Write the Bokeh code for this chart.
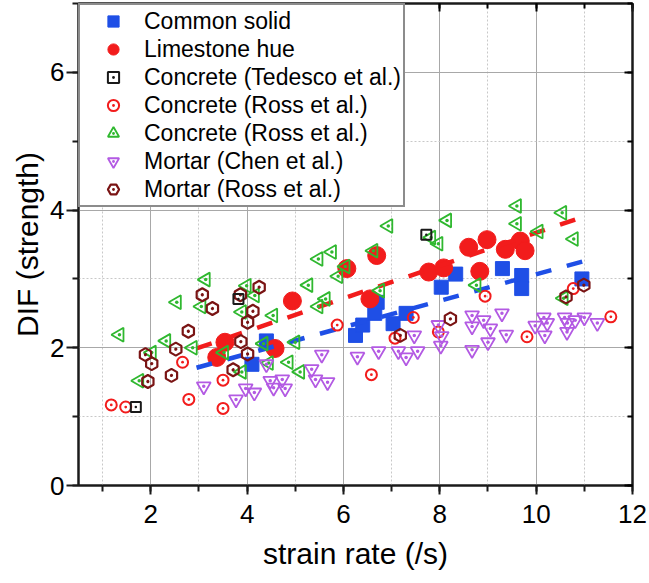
import math
from bokeh.plotting import figure
from bokeh.models import (LinearAxis, SingleIntervalTicker, Legend, LegendItem,
                          CustomJSTickFormatter)
from bokeh.embed import file_html
from bokeh.resources import INLINE

# ---------------- data ----------------
common_x = [4.1, 4.4, 6.25, 6.4, 6.65, 6.7, 7.03, 7.3, 8.03, 8.33, 9.3, 9.7, 9.7, 10.95]
common_y = [1.76, 2.1, 2.18, 2.33, 2.5, 2.66, 2.35, 2.5, 2.88, 3.07, 3.15, 3.05, 2.86, 3.0]

lime_x = [3.37, 3.54, 4.58, 4.94, 6.07, 6.55, 6.69, 7.77, 8.08, 8.6, 8.98, 8.83, 9.36, 9.67, 9.77]
lime_y = [1.86, 2.08, 1.99, 2.68, 3.15, 2.71, 3.34, 3.1, 3.16, 3.46, 3.57, 3.11, 3.43, 3.55, 3.41]

tedesco_x = [1.69, 3.82, 7.72]
tedesco_y = [1.14, 2.71, 3.64]

ross_c_x = [1.18, 1.48, 2.66, 2.79, 3.5, 3.5, 5.87, 6.58, 7.07, 7.45, 7.97, 8.94, 9.81, 10.77, 11.55]
ross_c_y = [1.17, 1.14, 1.79, 1.25, 1.53, 1.12, 2.33, 1.61, 2.14, 2.44, 2.23, 2.75, 2.16, 2.86, 2.45]

ross_t_x = [1.35, 1.76, 2.02, 2.32, 2.54, 2.87, 3.05, 3.14, 3.52, 3.89, 3.99, 4.16, 3.89,
            4.34, 4.45, 4.54, 4.86, 5.0, 5.1, 5.27, 5.48, 5.63, 5.48, 5.76, 5.89, 6.04,
            6.93, 6.62, 6.76, 8.15, 7.82, 7.97, 8.76, 9.6, 9.6, 10.05, 10.54, 10.78, 10.57]
ross_t_y = [2.19, 1.52, 1.93, 2.1, 2.66, 2.0, 2.6, 2.99, 1.93, 2.52, 2.9, 2.76, 1.65,
            2.06, 1.78, 2.47, 1.79, 2.08, 1.65, 2.91, 2.6, 2.71, 3.29, 3.39, 3.04, 3.18,
            3.77, 3.41, 2.83, 3.85, 3.6, 3.51, 2.91, 4.06, 3.8, 3.69, 3.96, 3.58, 2.72]

chen_x = [3.1, 3.77, 3.97, 4.15, 4.4, 4.48, 4.55, 4.73, 4.79, 5.34, 5.42, 5.67, 5.55,
          6.29, 6.73, 7.14, 7.3, 7.54, 7.47, 7.97, 8.04, 8.02, 8.67, 8.67, 8.67, 8.91,
          9.05, 9.0, 9.29, 9.38, 9.98, 10.16, 10.23, 10.18, 10.59, 10.65, 10.64, 10.81,
          11.0, 11.27]
chen_y = [1.44, 1.25, 1.41, 1.35, 1.76, 1.52, 1.42, 1.54, 1.41, 1.69, 1.54, 1.5, 1.9,
          1.87, 1.95, 1.95, 1.86, 1.95, 2.18, 2.33, 2.17, 2.03, 2.47, 2.31, 1.97, 2.4,
          2.28, 2.08, 2.5, 2.19, 2.32, 2.44, 2.36, 2.18, 2.44, 2.36, 2.23, 2.4,
          2.44, 2.36]

mortar_r_x = [1.89, 2.02, 1.94, 2.43, 2.52, 2.78, 3.07, 3.28, 3.71, 3.86, 3.87, 4.01,
              4.01, 4.12, 4.25, 7.18, 8.22, 10.62, 10.99]
mortar_r_y = [1.9, 1.77, 1.51, 1.6, 1.98, 2.24, 2.77, 2.57, 1.68, 2.77, 2.09, 1.91,
              2.37, 2.53, 2.88, 2.18, 2.42, 2.74, 2.91]

fit_x = [2.95, 11.05]
common_fit_y = [1.71, 3.27]
lime_fit_y = [1.99, 3.92]

x_ticks_interval = 2
y_ticks_interval = 2

FONT = "Liberation Sans"

p = figure(width=649, height=583, x_range=(0.5, 12), y_range=(0, 7),
           output_backend="svg", toolbar_location=None,
           min_border_left=78, min_border_right=17, min_border_top=3,
           min_border_bottom=98)
p.background_fill_color = "white"
p.border_fill_color = "white"
p.outline_line_color = "#1a1a1a"
p.outline_line_width = 2

p.xaxis.ticker = SingleIntervalTicker(interval=x_ticks_interval, num_minor_ticks=2)
p.yaxis.ticker = SingleIntervalTicker(interval=y_ticks_interval, num_minor_ticks=2)

for g in (p.xgrid, p.ygrid):
    g.grid_line_color = "#a8a8a8"
    g.grid_line_width = 1
    g.minor_grid_line_color = "#c8c8c8"
    g.minor_grid_line_dash = "2 2"
    g.minor_grid_line_width = 1

for ax in (p.xaxis, p.yaxis):
    ax.axis_line_width = 2
    ax.axis_line_color = "#1a1a1a"
    ax.major_tick_line_width = 2
    ax.minor_tick_line_width = 2
    ax.major_tick_line_color = "#1a1a1a"
    ax.minor_tick_line_color = "#1a1a1a"
    ax.major_tick_in = 0
    ax.minor_tick_in = 0
    ax.major_label_text_font = FONT
    ax.major_label_text_font_size = "26px"
    ax.major_label_text_color = "black"
    ax.axis_label_text_font = FONT
    ax.axis_label_text_font_size = "30px"
    ax.axis_label_text_font_style = "normal"
    ax.axis_label_text_color = "black"

p.xaxis.major_tick_out = 9
p.xaxis.minor_tick_out = 6
p.xaxis.major_label_standoff = 10
p.xaxis.axis_label_standoff = 11
p.xaxis.axis_label = "strain rate (/s)"

p.yaxis.major_tick_out = 12
p.yaxis.minor_tick_out = 6
p.yaxis.major_label_standoff = 2
p.yaxis.axis_label_standoff = 3
p.yaxis.axis_label = "DIF (strength)"

blank = CustomJSTickFormatter(code="return ''")
for loc, ticker in (("right", SingleIntervalTicker(interval=y_ticks_interval, num_minor_ticks=2)),
                    ("above", SingleIntervalTicker(interval=x_ticks_interval, num_minor_ticks=2))):
    ax = LinearAxis(ticker=ticker, formatter=blank, axis_line_width=2, axis_line_color="#1a1a1a",
                    major_tick_in=8, major_tick_out=0, minor_tick_in=5, minor_tick_out=0,
                    major_tick_line_width=2, minor_tick_line_width=2,
                    major_label_standoff=0)
    p.add_layout(ax, loc)

blue = "#1f4fe6"
red = "#f21c1c"
green = "#2fb82f"
purple = "#b35ae3"
maroon = "#7a1414"

r_common = p.scatter(common_x, common_y, marker="square", size=14,
                     fill_color=blue, line_color=blue)
r_lime = p.scatter(lime_x, lime_y, marker="circle", size=18,
                   fill_color=red, line_color=red)

p.line(fit_x, common_fit_y, line_color=blue, line_width=4.5, line_dash="16 16")
p.line(fit_x, lime_fit_y, line_color=red, line_width=4.5, line_dash="16 16")

r_ross_c = p.scatter(ross_c_x, ross_c_y, marker="circle_dot", size=11,
                     fill_color=None, line_color=red, line_width=2)
r_ross_t = p.scatter(ross_t_x, ross_t_y, marker="triangle_dot", size=14, angle=math.pi / 2,
                     fill_color=None, line_color=green, line_width=1.8)
r_chen = p.scatter(chen_x, chen_y, marker="inverted_triangle", size=14,
                   fill_color=None, line_color=purple, line_width=1.8)
r_chen_dot = p.scatter(chen_x, chen_y, marker="dot", size=14,
                       fill_color=purple, line_color=purple)
r_mortar = p.scatter(mortar_r_x, mortar_r_y, marker="hex_dot", size=13, angle=math.pi / 6,
                     fill_color=None, line_color=maroon, line_width=2.2)
r_tedesco = p.scatter(tedesco_x, tedesco_y, marker="square_dot", size=10,
                      fill_color=None, line_color="#1a1a1a", line_width=2)

legend = Legend(items=[
    LegendItem(label="Common solid", renderers=[r_common]),
    LegendItem(label="Limestone hue", renderers=[r_lime]),
    LegendItem(label="Concrete (Tedesco et al.)", renderers=[r_tedesco]),
    LegendItem(label="Concrete (Ross et al.)", renderers=[r_ross_c]),
    LegendItem(label="Concrete (Ross et al.)", renderers=[r_ross_t]),
    LegendItem(label="Mortar (Chen et al.)", renderers=[r_chen, r_chen_dot]),
    LegendItem(label="Mortar (Ross et al.)", renderers=[r_mortar]),
], location="top_left")
legend.margin = 0
legend.padding = 2
legend.spacing = 0
legend.glyph_width = 62
legend.glyph_height = 28
legend.label_height = 28
legend.label_standoff = 0
legend.label_text_font = FONT
legend.label_text_font_size = "23px"
legend.label_text_color = "black"
legend.border_line_color = "#1a1a1a"
legend.border_line_width = 2
legend.background_fill_alpha = 1
p.add_layout(legend, "center")

open("out.html", "w").write(file_html(p, INLINE))
